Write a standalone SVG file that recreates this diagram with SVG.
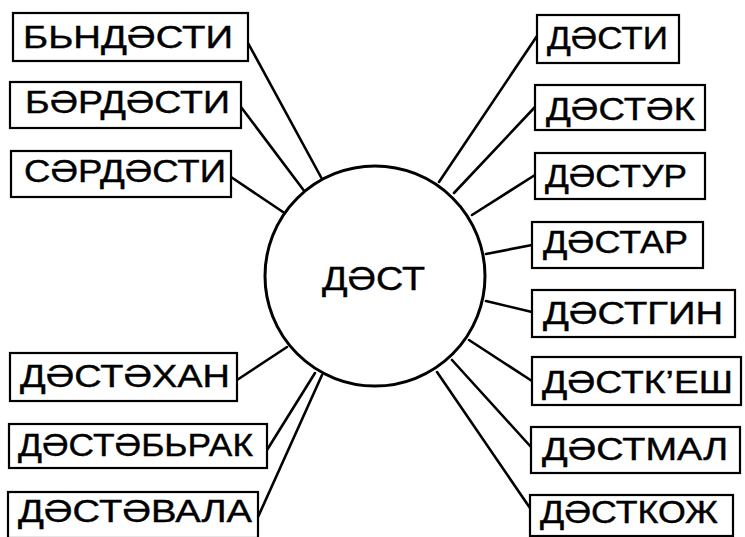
<svg xmlns="http://www.w3.org/2000/svg" width="745" height="537" viewBox="0 0 745 537">
<style>
.box{fill:#fff;stroke:#000;stroke-width:2.2}
.lbl{font-family:"Liberation Sans","DejaVu Sans",sans-serif;font-size:30.5px;fill:#000;stroke:#000;stroke-width:0.4}
.c{stroke:#000;stroke-width:2.6;fill:none;stroke-linecap:round}
</style>
<rect width="745" height="537" fill="#fff"/>
<g id="connectors">
<line class="c" x1="248" y1="43" x2="322" y2="179"/>
<line class="c" x1="241" y1="107" x2="305" y2="192"/>
<line class="c" x1="231" y1="177" x2="283" y2="212"/>
<line class="c" x1="237" y1="380" x2="287" y2="347"/>
<line class="c" x1="267" y1="450" x2="315" y2="373"/>
<line class="c" x1="258" y1="517" x2="322" y2="375"/>
<line class="c" x1="537" y1="36" x2="439" y2="182"/>
<line class="c" x1="535" y1="107" x2="454" y2="193"/>
<line class="c" x1="535" y1="175" x2="472" y2="215"/>
<line class="c" x1="532" y1="245" x2="486" y2="254"/>
<line class="c" x1="532" y1="312" x2="486" y2="301"/>
<line class="c" x1="532" y1="381" x2="469" y2="340"/>
<line class="c" x1="531" y1="447" x2="452" y2="360"/>
<line class="c" x1="530" y1="508" x2="437" y2="372"/>
</g>
<g id="center">
<circle cx="375" cy="276" r="110" fill="#fff" stroke="#000" stroke-width="3"/>
<text class="lbl" x="322" y="290" style="font-size:33px" textLength="103" lengthAdjust="spacingAndGlyphs">ДӘСТ</text>
</g>
<g id="n1"><rect class="box" x="13" y="13" width="235" height="48"/><text class="lbl" x="23" y="48" textLength="210" lengthAdjust="spacingAndGlyphs">БЬНДӘСТИ</text></g>
<g id="n2"><rect class="box" x="10" y="82" width="231" height="46"/><text class="lbl" x="25" y="113" textLength="205" lengthAdjust="spacingAndGlyphs">БӘРДӘСТИ</text></g>
<g id="n3"><rect class="box" x="11" y="151" width="220" height="46"/><text class="lbl" x="24" y="182" textLength="202" lengthAdjust="spacingAndGlyphs">СӘРДӘСТИ</text></g>
<g id="n4"><rect class="box" x="10" y="353" width="227" height="48"/><text class="lbl" x="20" y="387" textLength="210" lengthAdjust="spacingAndGlyphs">ДӘСТӘХАН</text></g>
<g id="n5"><rect class="box" x="9" y="424" width="258" height="44"/><text class="lbl" x="18" y="456" textLength="235" lengthAdjust="spacingAndGlyphs">ДӘСТӘБЬРАК</text></g>
<g id="n6"><rect class="box" x="8" y="492" width="250" height="46"/><text class="lbl" x="18" y="522" textLength="234" lengthAdjust="spacingAndGlyphs">ДӘСТӘВАЛА</text></g>
<g id="n7"><rect class="box" x="537" y="15" width="142" height="48"/><text class="lbl" x="547" y="49" textLength="121" lengthAdjust="spacingAndGlyphs">ДӘСТИ</text></g>
<g id="n8"><rect class="box" x="535" y="85" width="170" height="45"/><text class="lbl" x="546" y="120" textLength="149" lengthAdjust="spacingAndGlyphs">ДӘСТӘК</text></g>
<g id="n9"><rect class="box" x="535" y="153" width="170" height="46"/><text class="lbl" x="545" y="187" textLength="142" lengthAdjust="spacingAndGlyphs">ДӘСТУР</text></g>
<g id="n10"><rect class="box" x="532" y="222" width="171" height="46"/><text class="lbl" x="543" y="253" textLength="145" lengthAdjust="spacingAndGlyphs">ДӘСТАР</text></g>
<g id="n11"><rect class="box" x="532" y="290" width="203" height="47"/><text class="lbl" x="543" y="324" textLength="180" lengthAdjust="spacingAndGlyphs">ДӘСТГИН</text></g>
<g id="n12"><rect class="box" x="532" y="357" width="209" height="48"/><text class="lbl" x="542" y="393" textLength="191" lengthAdjust="spacingAndGlyphs">ДӘСТК’ЕШ</text></g>
<g id="n13"><rect class="box" x="531" y="427" width="209" height="46"/><text class="lbl" x="542" y="460" textLength="186" lengthAdjust="spacingAndGlyphs">ДӘСТМАЛ</text></g>
<g id="n14"><rect class="box" x="530" y="495" width="203" height="41"/><text class="lbl" x="540" y="523" textLength="178" lengthAdjust="spacingAndGlyphs">ДӘСТКОЖ</text></g>
</svg>
